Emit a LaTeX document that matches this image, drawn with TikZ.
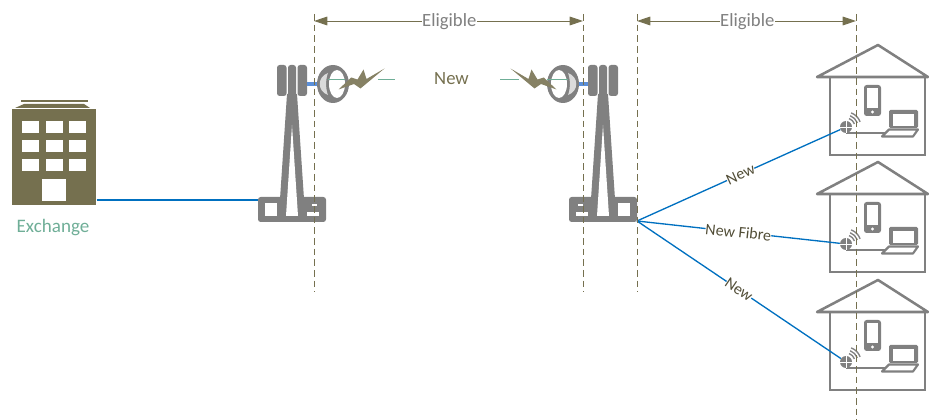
\documentclass[tikz,border=0pt]{standalone}
\usepackage{fontspec}
\setmainfont{Carlito}
\usepackage{tikz}
\usetikzlibrary{arrows.meta}
\definecolor{olive}{HTML}{75704F}
\definecolor{icongray}{HTML}{808080}
\definecolor{linkblue}{HTML}{0070C0}
\definecolor{stubblue}{HTML}{5B8FD9}
\definecolor{teal}{HTML}{6FAE97}
\tikzset{
  boundary/.style={draw=olive, dashed, dash pattern=on 5pt off 3pt, line width=0.6pt},
  span/.style={draw=olive, line width=0.7pt, {Triangle[length=10pt,width=6.5pt]}-{Triangle[length=10pt,width=6.5pt]}},
  spanlabel/.style={fill=white, text=icongray, font=\fontsize{14}{16}\selectfont, inner sep=0.5pt},
  fibre/.style={draw=linkblue, line width=1pt},
  fibrelabel/.style={fill=white, text=olive!70!black, font=\fontsize{12}{14}\selectfont, inner sep=0pt},
  radio/.style={draw=teal, line width=0.5pt},
  stub/.style={draw=stubblue, line width=2.6pt},
  window/.style={fill=white, draw=none},
  tower/.pic={
    \foreach \xa/\xb in {-15/-5.5, -4/4, 5.5/15} {
      \fill[icongray, rounded corners=2pt] (\xa,-19) rectangle (\xb,12);
    }
    \fill[icongray] (-5,10) -- (5,10) -- (12,115) -- (-12,115) -- cycle;
    \fill[icongray, rounded corners=2pt] (-34,113) rectangle (34,138);
    \fill[window] (0,41) -- (6,132) -- (-6,132) -- cycle;
    \fill[window] (-27,119) rectangle (-15,132);
    \fill[window] (20,120) rectangle (25,122.5);
    \fill[window] (15,128) rectangle (27,132);
    \coordinate (-in) at (-34,116);
    \coordinate (-out) at (-34,137);
  },
  dish/.pic={
    \fill[icongray] (0,0) ellipse [x radius=16, y radius=19];
    \fill[window] (4,0) ellipse [x radius=8, y radius=14];
    \fill[black!14] (-5,-11) .. controls (-16,-7) and (-16,7) .. (-5,11) .. controls (-7.5,5) and (-7.5,-5) .. (-5,-11);
    \coordinate (-back) at (-16,0);
  },
  bolt/.pic={
    \fill[olive!88!white] (0,0) -- (12.7,-12) -- (19,-10) -- (25,-20) -- (28,-10.5)
      -- (46,-21) -- (22,-1) -- (15.5,-5.5) -- cycle;
  },
  house/.pic={
    \draw[icongray, line width=1.9pt, line join=round] (-61,32) -- (0,0) -- (50,32) -- cycle;
    \draw[icongray, line width=1.9pt] (-48,32) -- (-48,110) -- (47,110) -- (47,32);
    % phone
    \fill[icongray, rounded corners=2pt] (-14,40) rectangle (3,71);
    \fill[window] (-11,43) rectangle (0,63);
    \fill[white] (-5.5,67) circle (1.7);
    % laptop
    \fill[icongray, rounded corners=1pt] (11,65) rectangle (40,83);
    \fill[window] (15,69) rectangle (36,81);
    \draw[icongray, line width=1.6pt, fill=white, line join=round] (11,84.5) -- (40,84.5) -- (35,91.5) -- (4,91.5) -- cycle;
    % hub
    \draw[icongray, line width=1.9pt] (-32,88) -- (7,88);
    \node[circle, fill=icongray, inner sep=0pt, minimum size=9pt] (-hub) at (-32,82) {};
    \draw[white, line width=0.5pt] (-hub.north) -- (-hub.south) (-hub.west) -- (-hub.east);
    \foreach \ra in {9,12,15} {
      \draw[icongray, line width=1pt] (-32,82) ++(-70:\ra) arc (-70:-20:\ra);
    }
  },
}
\begin{document}
\begin{tikzpicture}[x=0.75pt, y=-0.75pt]
    \path[use as bounding box] (0,0) rectangle (929,420);

    % exchange
    \fill[olive] (21,100) rectangle (88,102.5);
    \fill[olive] (15,108) -- (24,104) -- (84,104) -- (90,108) -- cycle;
    \node[fill=olive, inner sep=0pt, minimum width=63pt, minimum height=72pt, anchor=north west] (exchange) at (12,109) {};
    \foreach \xa in {22,46,69} {
      \foreach \ya in {121,140,159} {
        \fill[window] (\xa,\ya) rectangle ++(16.5,12.5);
      }
    }
    \fill[window] (42,179) rectangle (66,201);
    \node[text=teal, font=\fontsize{14.3}{16}\selectfont] (exchangelabel) at (53,227.5) {Exchange};

    % towers
    \pic (towerA) at (292,84) {tower};
    \pic[xscale=-1] (towerB) at (603,84) {tower};
    \draw[fibre] (exchange.east |- towerA-in) -- (towerA-in);

    % radio link
    \pic (dishA) at (333,84) {dish};
    \pic[xscale=-1] (dishB) at (563,84) {dish};
    \draw[stub] (307,84) -- (dishA-back);
    \draw[stub] (588,84) -- (dishB-back);
    \coordinate (radioA1) at (328,79);
    \coordinate (radioA2) at (345,79);
    \coordinate (radioA3) at (378,79);
    \coordinate (radioA4) at (395,79);
    \coordinate (radioB1) at (500,79);
    \coordinate (radioB2) at (519,79);
    \coordinate (radioB3) at (547,79);
    \coordinate (radioB4) at (568,79);
    \draw[radio] (radioA1) -- (radioA2) (radioA3) -- (radioA4);
    \draw[radio] (radioB1) -- (radioB2) (radioB3) -- (radioB4);
    \pic (boltA) at (338.5,89.5) {bolt};
    \pic[xscale=-1] (boltB) at (556.5,89.5) {bolt};
    \node[text=olive, font=\fontsize{14}{16}\selectfont] (new) at (451.5,79) {New};

    % premises
    \pic (houseA) at (878,45) {house};
    \pic (houseB) at (878,162) {house};
    \pic (houseC) at (878,280) {house};
    \draw[fibre] (towerB-out) -- node[fibrelabel, sloped, pos=0.51] (newA) {New} (houseA-hub);
    \draw[fibre] (towerB-out) -- node[fibrelabel, sloped, pos=0.5] (newB) {New Fibre} (houseB-hub);
    \draw[fibre] (towerB-out) -- node[fibrelabel, sloped, pos=0.5] (newC) {New} (houseC-hub);

    % eligible boundaries
    \coordinate (topA) at (314,14);
    \coordinate (topB) at (583,14);
    \coordinate (topC) at (637,14);
    \coordinate (topD) at (856,14);
    \coordinate (botA) at (314,292);
    \coordinate (botB) at (583,292);
    \coordinate (botC) at (637,292);
    \coordinate (botD) at (856,420);
    \foreach \t/\b in {topA/botA, topB/botB, topC/botC, topD/botD} {
      \draw[boundary] (\t) -- (\b);
    }
    \coordinate (spanA) at (314,21);
    \coordinate (spanB) at (583,21);
    \coordinate (spanC) at (637,21);
    \coordinate (spanD) at (856,21);
    \draw[span] (spanA) -- node[spanlabel, yshift=-0.8pt, xshift=0.6pt] (eligibleA) {Eligible} (spanB);
    \draw[span] (spanC) -- node[spanlabel, yshift=-0.8pt, xshift=0.6pt] (eligibleB) {Eligible} (spanD);
\end{tikzpicture}
\end{document}
